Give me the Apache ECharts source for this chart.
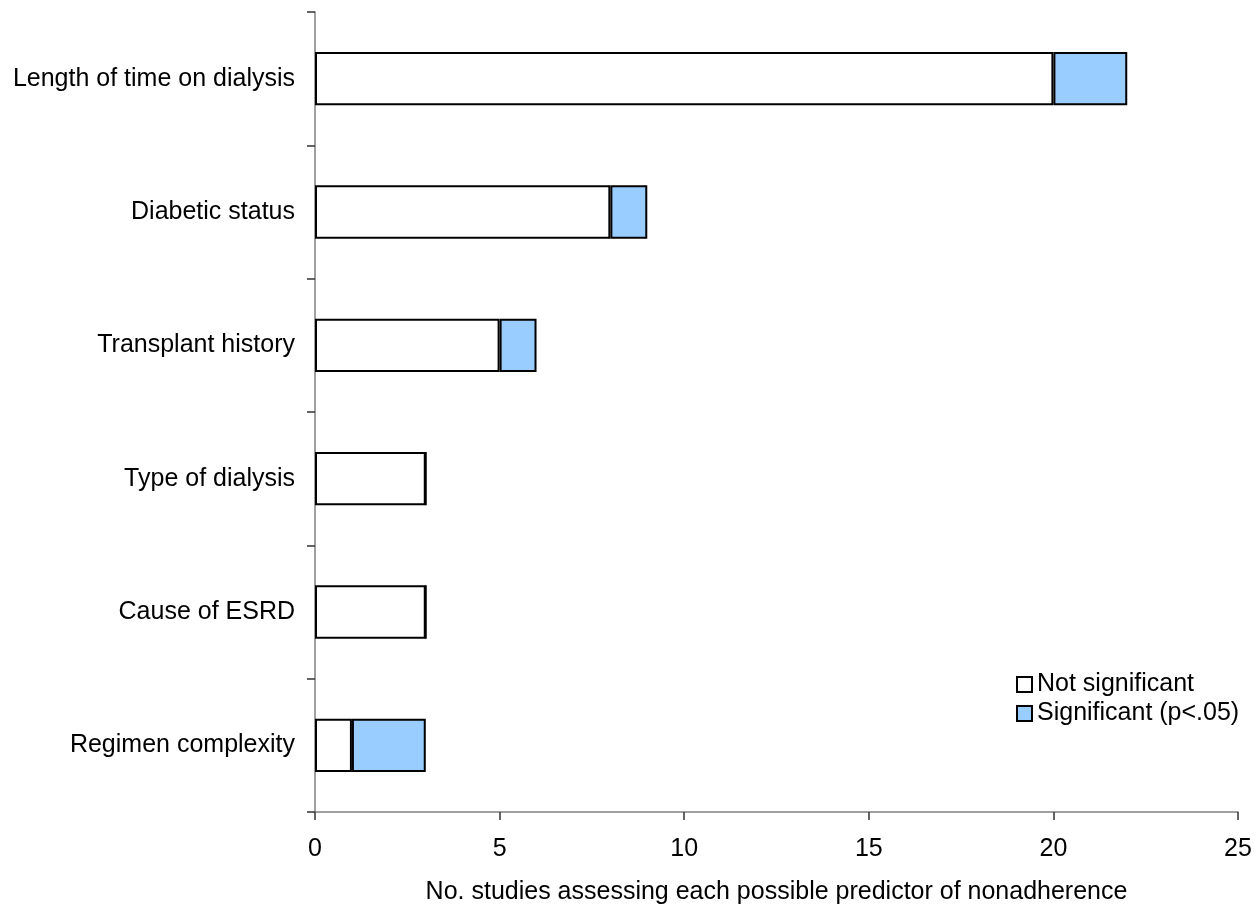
<!DOCTYPE html>
<html>
<head>
<meta charset="utf-8">
<script src="https://cdn.jsdelivr.net/npm/echarts@6/dist/echarts.min.js"></script>
<style>
html,body{margin:0;padding:0;background:#fff;}
#chart{width:1254px;height:905px;}
</style>
</head>
<body>
<div id="chart"></div>
<script>
const categories = ["Length of time on dialysis","Diabetic status","Transplant history","Type of dialysis","Cause of ESRD","Regimen complexity"];
const notSignificant = [20, 8, 5, 3, 3, 1];
const significant = [2, 1, 1, 0, 0, 2];
const xTicks = {min: 0, max: 25, interval: 5};
const axisTitle = "No. studies assessing each possible predictor of nonadherence";
const seriesNames = ["Not significant", "Significant (p<.05)"];

const font = 'Liberation Sans, Arial, sans-serif';
const chart = echarts.init(document.getElementById('chart'), null, {renderer: 'canvas'});
chart.setOption({
  animation: false,
  backgroundColor: '#fff',
  grid: {left: 315, right: 16, top: 12, bottom: 93, containLabel: false, outerBoundsMode: 'none'},
  legend: {
    orient: 'vertical',
    left: 1016, top: 672,
    padding: 0,
    itemWidth: 15, itemHeight: 15, itemGap: 4,
    textStyle: {fontFamily: font, fontSize: 25, lineHeight: 25, color: '#000'},
    data: seriesNames.map(n => ({name: n, icon: 'rect'}))
  },
  xAxis: {
    type: 'value',
    min: xTicks.min, max: xTicks.max, interval: xTicks.interval,
    splitLine: {show: false},
    axisLine: {show: true, lineStyle: {color: '#808080', width: 1.5}},
    axisTick: {show: true, length: 8, lineStyle: {color: '#333', width: 1.5}},
    axisLabel: {fontFamily: font, fontSize: 25, color: '#000', margin: 25},
    name: axisTitle,
    nameLocation: 'middle', nameGap: 68,
    nameTextStyle: {fontFamily: font, fontSize: 25, color: '#000'}
  },
  yAxis: {
    type: 'category',
    data: categories,
    inverse: true,
    axisLine: {show: true, lineStyle: {color: '#808080', width: 1.5}},
    axisTick: {show: true, length: 8, alignWithLabel: false, lineStyle: {color: '#333', width: 1.5}},
    axisLabel: {fontFamily: font, fontSize: 25, color: '#000', margin: 20}
  },
  series: [
    {name: seriesNames[0], type: 'bar', stack: 'a', data: notSignificant, barWidth: '40%',
     itemStyle: {color: '#ffffff', borderColor: '#000', borderWidth: 2}},
    {name: seriesNames[1], type: 'bar', stack: 'a', data: significant, barWidth: '40%',
     itemStyle: {color: '#99ccff', borderColor: '#000', borderWidth: 2}}
  ]
});
</script>
</body>
</html>
